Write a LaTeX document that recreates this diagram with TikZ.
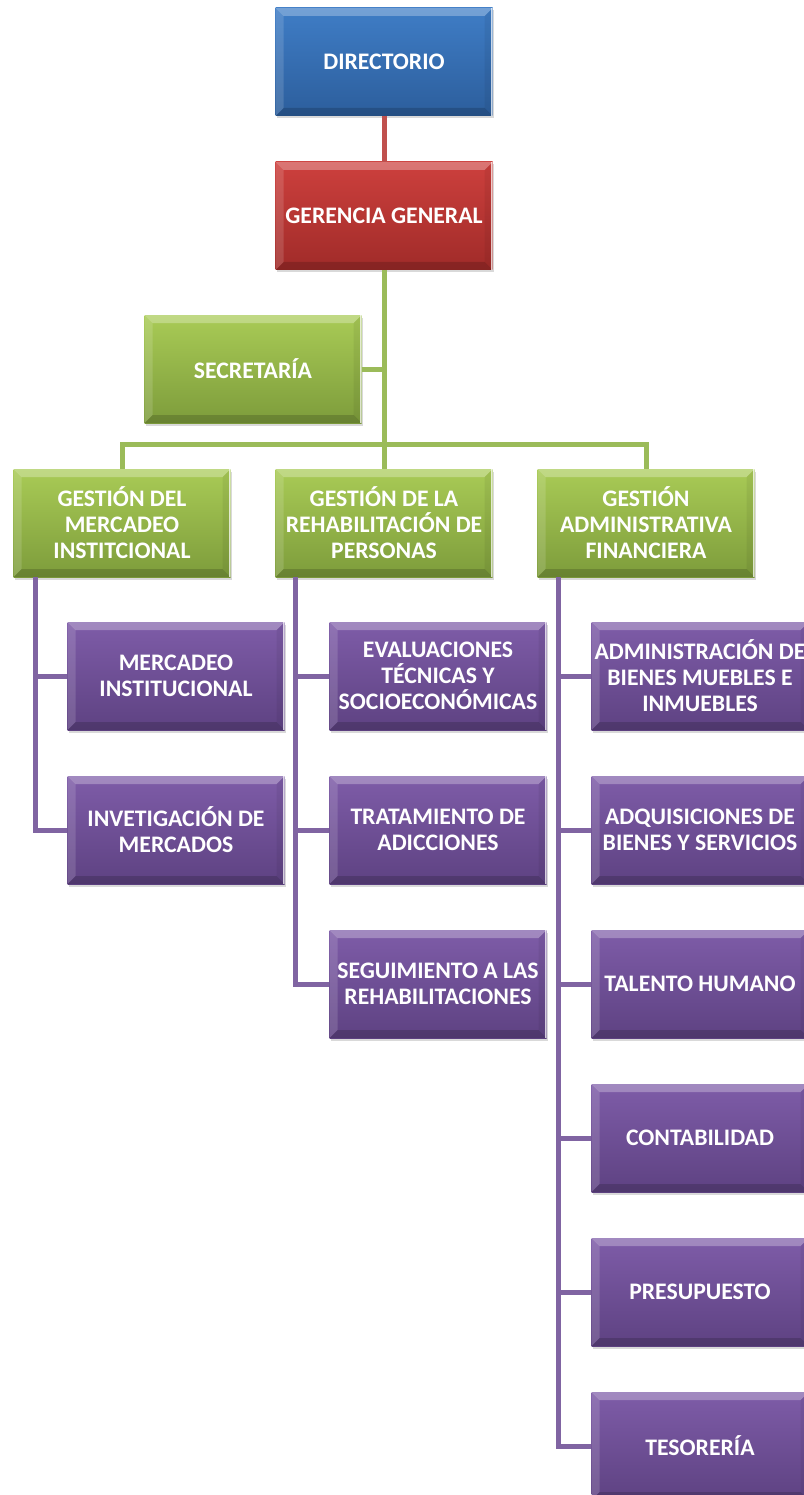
\documentclass[tikz,border=0pt]{standalone}
\usepackage{fontspec}
\setmainfont{Carlito}
\usepackage{tikz}
\usetikzlibrary{calc,positioning,shadows}

\definecolor{azularriba}{HTML}{3F7DC6}
\definecolor{azulabajo}{HTML}{2C5E9C}
\definecolor{rojoarriba}{HTML}{CD403D}
\definecolor{rojoabajo}{HTML}{A02B29}
\definecolor{verdearriba}{HTML}{A9CB56}
\definecolor{verdeabajo}{HTML}{7D9C3B}
\definecolor{moradoarriba}{HTML}{7E5CA8}
\definecolor{moradoabajo}{HTML}{5E4282}
\definecolor{linearoja}{HTML}{C0504D}
\definecolor{lineaverde}{HTML}{9BBB59}
\definecolor{lineamorada}{HTML}{8064A2}

\begin{document}
\begin{tikzpicture}[x=1pt,y=-1pt,
	caja/.style={rectangle,minimum width=217pt,minimum height=108pt,inner sep=0pt,
		align=center,text=white,font=\bfseries\fontsize{23.7}{26}\selectfont,
		drop shadow={opacity=0.3,shadow xshift=1.5pt,shadow yshift=-2.5pt},
		path picture={
			\coordinate (bnw) at (path picture bounding box.north west);
			\coordinate (bne) at (path picture bounding box.north east);
			\coordinate (bsw) at (path picture bounding box.south west);
			\coordinate (bse) at (path picture bounding box.south east);
			\fill[white,opacity=0.28] (bnw) -- (bne) -- ($(bne)+(-8pt,-8pt)$) -- ($(bnw)+(8pt,-8pt)$) -- cycle;
			\fill[white,opacity=0.14] (bnw) -- ($(bnw)+(8pt,-8pt)$) -- ($(bsw)+(8pt,8pt)$) -- (bsw) -- cycle;
			\fill[black,opacity=0.06] (bne) -- ($(bne)+(-8pt,-8pt)$) -- ($(bse)+(-8pt,8pt)$) -- (bse) -- cycle;
			\fill[black,opacity=0.16] (bsw) -- ($(bsw)+(8pt,8pt)$) -- ($(bse)+(-8pt,8pt)$) -- (bse) -- cycle;
			\draw[white,opacity=0.75,line width=2.5pt] (bne) -- (bse);
		}},
	cajaazul/.style={caja,top color=azularriba,bottom color=azulabajo},
	cajaroja/.style={caja,top color=rojoarriba,bottom color=rojoabajo},
	cajaverde/.style={caja,top color=verdearriba,bottom color=verdeabajo},
	cajamorada/.style={caja,top color=moradoarriba,bottom color=moradoabajo},
	conector/.style={line width=5pt}]
	\useasboundingbox (0,0) rectangle (803,1495);
	% cabeza
	\node[cajaazul] (dir) at (384,62) {DIRECTORIO};
	\node[cajaroja] (ger) at (384,216) {GERENCIA GENERAL};
	\node[cajaverde] (sec) at (253,369) {SECRETARÍA};
	% gestiones
	\node[cajaverde] (g1) at (122,523) {GESTIÓN DEL\\MERCADEO\\INSTITCIONAL};
	\node[cajaverde] (g2) at (384,523) {GESTIÓN DE LA\\REHABILITACIÓN DE\\PERSONAS};
	\node[cajaverde] (g3) at (646,523) {GESTIÓN\\ADMINISTRATIVA\\FINANCIERA};
	\draw[conector,linearoja] (dir) -- (ger);
	\draw[conector,lineaverde] (ger) -- (g2);
	\draw[conector,lineaverde] (sec.east) -- (sec.east -| ger.south);
	\draw[conector,lineaverde] (g1.north) -- ++(0,-24) -| (g3.north);
	% unidades
	\coordinate (c1) at ($(g1.south west)+(22,0)$);
	\coordinate (c2) at ($(g2.south west)+(20,0)$);
	\coordinate (c3) at ($(g3.south west)+(21,0)$);
	\foreach \n/\y/\t in {1/676/{MERCADEO\\INSTITUCIONAL},2/830/{INVETIGACIÓN DE\\MERCADOS}}
	{
		\node[cajamorada] (p1\n) at (176,\y) {\t};
		\draw[conector,lineamorada] (c1) |- (p1\n.west);
	}
	\foreach \n/\y/\t in {1/676/{EVALUACIONES\\TÉCNICAS Y\\SOCIOECONÓMICAS},2/830/{TRATAMIENTO DE\\ADICCIONES},3/984/{SEGUIMIENTO A LAS\\REHABILITACIONES}}
	{
		\node[cajamorada] (p2\n) at (438,\y) {\t};
		\draw[conector,lineamorada] (c2) |- (p2\n.west);
	}
	\foreach \n/\y/\t in {1/676/{ADMINISTRACIÓN DE\\BIENES MUEBLES E\\INMUEBLES},2/830/{ADQUISICIONES DE\\BIENES Y SERVICIOS},3/984/{TALENTO HUMANO},4/1138/{CONTABILIDAD},5/1292/{PRESUPUESTO},6/1446/{TESORERÍA}}
	{
		\node[cajamorada] (p3\n) at (700,\y) {\t};
		\draw[conector,lineamorada] (c3) |- (p3\n.west);
	}
\end{tikzpicture}
\end{document}
